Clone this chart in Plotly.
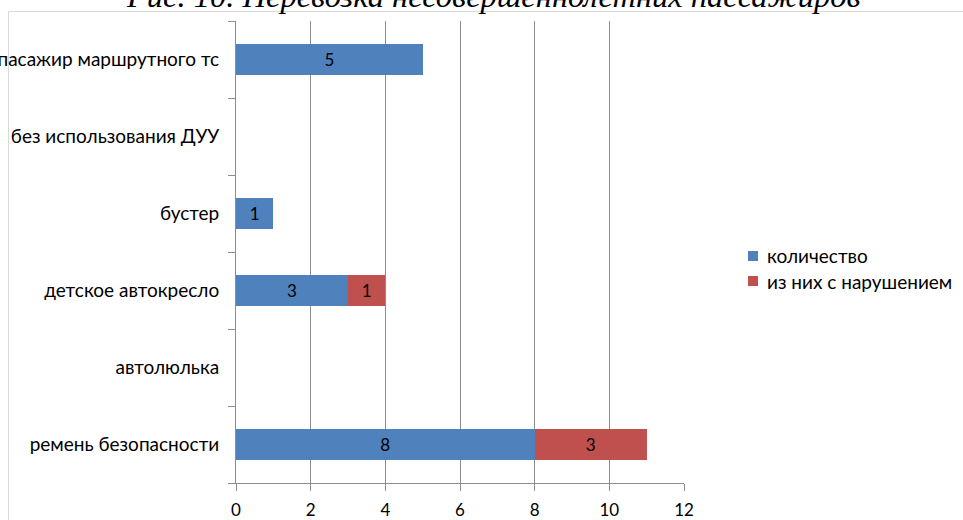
import plotly.graph_objects as go

categories = ["ремень безопасности", "автолюлька", "детское автокресло",
              "бустер", "без использования ДУУ", "пасажир маршрутного тс"]
series_names = ["количество", "из них с нарушением"]
count_values = [8, None, 3, 1, None, 5]
violation_values = [3, None, 1, None, None, None]
x_ticks = [0, 2, 4, 6, 8, 10, 12]
title_text = "Рис. 10. Перевозка несовершеннолетних пассажиров"

colors = ["#4F81BD", "#C0504D"]
font_family = "Lato, Carlito, sans-serif"

fig = go.Figure()
for name, vals, col in zip(series_names, [count_values, violation_values], colors):
    fig.add_trace(go.Bar(
        y=categories, x=vals, name=name, orientation="h",
        marker=dict(color=col, line=dict(width=0)),
        text=[("" if v is None else str(v)) for v in vals],
        textposition="inside", insidetextanchor="middle",
        textangle=0, constraintext="none",
        textfont=dict(family=font_family, size=17, color="#000000"),
        hoverinfo="skip", showlegend=False,
    ))

L, R, T, B = 236, 684, 21, 483
W, H = 963, 520
def px(x):
    return (x - L) / (R - L)
def py(y):
    return (B - y) / (B - T)

shapes = [
    dict(type="line", xref="paper", yref="paper", x0=px(8.5), x1=px(8.5),
         y0=py(11.5), y1=py(530), line=dict(color="#d9d9d9", width=1),
         layer="below"),
    dict(type="line", xref="paper", yref="paper", x0=px(8.5), x1=px(970),
         y0=py(11.5), y1=py(11.5), line=dict(color="#d9d9d9", width=1),
         layer="below"),
]
annotations = [dict(text=title_text, xref="paper", yref="paper",
                    x=px(493), y=py(-4), xanchor="center", yanchor="middle",
                    showarrow=False,
                    font=dict(family="Liberation Serif, Times New Roman, serif",
                              size=32.5, style="italic", color="#000000"))]

# legend drawn manually
legend_rows = [256, 281]
for name, col, yc in zip(series_names, colors, legend_rows):
    shapes.append(dict(type="rect", xref="paper", yref="paper",
                       x0=px(748), x1=px(758), y0=py(yc + 5), y1=py(yc - 5),
                       fillcolor=col, line=dict(width=0), layer="above"))
    annotations.append(dict(text=name, xref="paper", yref="paper",
                            x=px(765), y=py(yc), xanchor="left", yanchor="middle",
                            showarrow=False,
                            font=dict(family=font_family, size=19, color="#000000")))

fig.update_layout(
    width=W, height=H,
    margin=dict(l=L, r=W - R, t=T, b=H - B, pad=0, autoexpand=False),
    barmode="stack", bargap=0.6,
    paper_bgcolor="white", plot_bgcolor="white",
    font=dict(family=font_family, size=17, color="#000000"),
    showlegend=False,
    xaxis=dict(range=[0, 12], tickvals=x_ticks, showgrid=True,
               gridcolor="#8c8c8c", gridwidth=1, showline=True,
               linecolor="#8c8c8c", linewidth=1, ticks="outside",
               ticklen=7, tickcolor="#8c8c8c", zeroline=False,
               ticklabelstandoff=5, automargin=False,
               tickfont=dict(family=font_family, size=17, color="#000000"),
               fixedrange=True),
    yaxis=dict(categoryorder="array", categoryarray=categories,
               showline=True, linecolor="#8c8c8c", linewidth=1,
               ticks="outside", ticklen=7, tickcolor="#8c8c8c",
               tickson="boundaries", showgrid=False, mirror=False,
               ticklabelstandoff=12, automargin=False,
               tickfont=dict(family=font_family, size=19, color="#000000"),
               fixedrange=True),
    annotations=annotations,
    shapes=shapes,
)

fig.write_html("out.html", config={"displayModeBar": False},
               post_script="document.body.style.margin='0';document.body.style.overflow='hidden';")
